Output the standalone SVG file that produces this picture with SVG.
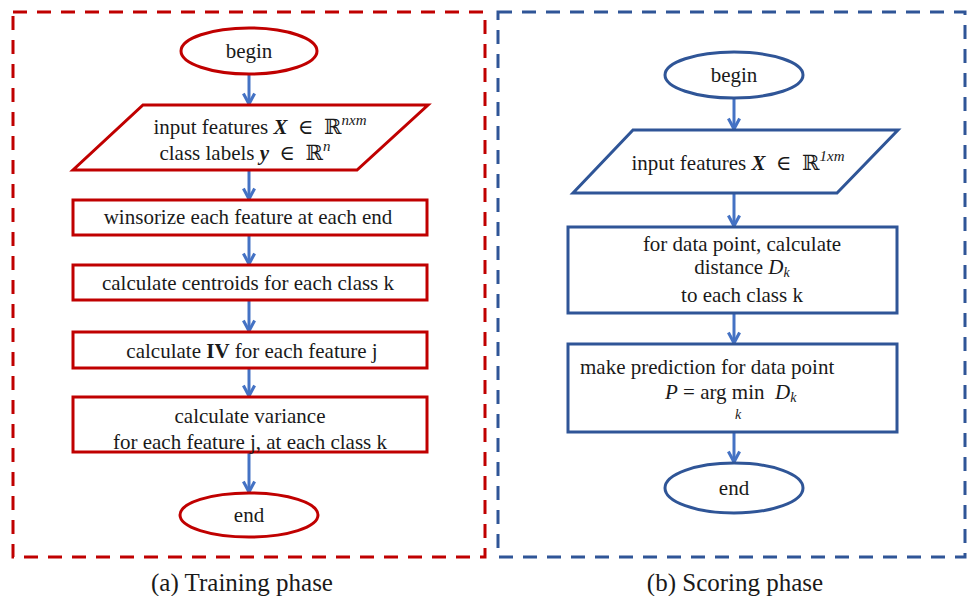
<svg xmlns="http://www.w3.org/2000/svg" width="970" height="596" viewBox="0 0 970 596">
  <style>
    .bg { fill: #ffffff; }
    .frame-red { fill: none; stroke: #C00000; stroke-width: 3; stroke-dasharray: 14 10; }
    .frame-blue { fill: none; stroke: #2F5597; stroke-width: 3; stroke-dasharray: 14 10; }
    .red { fill: #ffffff; stroke: #C00000; stroke-width: 3; }
    .blue { fill: #ffffff; stroke: #2F5597; stroke-width: 3; }
    .arrow { stroke: #4472C4; stroke-width: 3; fill: none; marker-end: url(#chev); }
    text { font-family: "Liberation Serif", "DejaVu Serif", serif; font-size: 21px; fill: #1a1a1a; white-space: pre; }
    .c { text-anchor: middle; }
    .cap { font-family: "Liberation Serif", "Times New Roman", serif; font-size: 25px; }
    .mi { font-style: italic; }
    .mb { font-style: italic; font-weight: bold; }
    .b { font-weight: bold; }
    .sup { font-size: 15px; font-style: italic; }
    .sub { font-size: 14px; font-style: italic; }
  </style>
  <defs>
    <marker id="chev" viewBox="0 0 10 10" refX="9" refY="5" markerUnits="userSpaceOnUse" markerWidth="14" markerHeight="14" orient="auto">
      <path d="M1.5,1 L9,5 L1.5,9" fill="none" stroke="#4472C4" stroke-width="2.2" stroke-linejoin="miter"/>
    </marker>
  </defs>

  <rect class="bg" x="0" y="0" width="970" height="596"/>

  <!-- panel frames -->
  <rect class="frame-red" x="13" y="12" width="472" height="545"/>
  <rect class="frame-blue" x="498" y="12" width="467" height="545"/>

  <!-- connectors -->
  <g id="connectors">
    <line class="arrow" x1="249" y1="75" x2="249" y2="104"/>
    <line class="arrow" x1="249" y1="171" x2="249" y2="199"/>
    <line class="arrow" x1="249" y1="236" x2="249" y2="264"/>
    <line class="arrow" x1="249" y1="301" x2="249" y2="331"/>
    <line class="arrow" x1="249" y1="369" x2="249" y2="396"/>
    <line class="arrow" x1="249" y1="453" x2="249" y2="492"/>

    <line class="arrow" x1="734" y1="98" x2="734" y2="129"/>
    <line class="arrow" x1="734" y1="194" x2="734" y2="226"/>
    <line class="arrow" x1="734" y1="314" x2="734" y2="343"/>
    <line class="arrow" x1="734" y1="433" x2="734" y2="462"/>
  </g>

  <!-- training phase -->
  <g id="train-begin">
    <ellipse class="red" cx="249" cy="51" rx="68" ry="23"/>
    <text class="c" x="249" y="58">begin</text>
  </g>
  <g id="train-input">
    <polygon class="red" points="143,105 428,105 357,170 73,170"/>
    <text class="c" x="260" y="134">input features <tspan class="mb">X</tspan>&#160;&#160;∈&#160;&#160;ℝ<tspan class="sup" dy="-9">nxm</tspan></text>
    <text class="c" x="245" y="160">class labels <tspan class="mb">y</tspan>&#160;&#160;∈&#160;&#160;ℝ<tspan class="sup" dy="-9">n</tspan></text>
  </g>
  <g id="train-winsorize">
    <rect class="red" x="73" y="200" width="354" height="35"/>
    <text class="c" x="248" y="224">winsorize each feature at each end</text>
  </g>
  <g id="train-centroids">
    <rect class="red" x="73" y="265" width="354" height="35"/>
    <text class="c" x="248" y="290">calculate centroids for each class k</text>
  </g>
  <g id="train-iv">
    <rect class="red" x="73" y="332" width="354" height="36"/>
    <text class="c" x="252" y="358">calculate <tspan class="b">IV</tspan> for each feature j</text>
  </g>
  <g id="train-variance">
    <rect class="red" x="73" y="397" width="354" height="55"/>
    <text class="c" x="250" y="423">calculate variance</text>
    <text class="c" x="250" y="449">for each feature j, at each class k</text>
  </g>
  <g id="train-end">
    <ellipse class="red" cx="249" cy="515" rx="69" ry="22"/>
    <text class="c" x="249" y="522">end</text>
  </g>
  <text class="cap c" x="242" y="591">(a) Training phase</text>

  <!-- scoring phase -->
  <g id="score-begin">
    <ellipse class="blue" cx="734" cy="75" rx="69" ry="23"/>
    <text class="c" x="734" y="82">begin</text>
  </g>
  <g id="score-input">
    <polygon class="blue" points="633,130 898,130 837,193 573,193"/>
    <text class="c" x="738" y="170">input features <tspan class="mb">X</tspan>&#160;&#160;∈&#160;&#160;ℝ<tspan class="sup" dy="-9">1xm</tspan></text>
  </g>
  <g id="score-distance">
    <rect class="blue" x="568" y="227" width="329" height="86"/>
    <text class="c" x="742" y="251">for data point, calculate</text>
    <text class="c" x="742" y="274">distance <tspan class="mi">D</tspan><tspan class="sub" dy="3">k</tspan></text>
    <text class="c" x="742" y="302">to each class k</text>
  </g>
  <g id="score-predict">
    <rect class="blue" x="568" y="344" width="329" height="88"/>
    <text x="580" y="374">make prediction for data point</text>
    <text x="665" y="399"><tspan class="mi">P</tspan> = arg min&#160;&#160;<tspan class="mi">D</tspan><tspan class="sub" dy="3">k</tspan></text>
    <text class="sub c" x="738" y="419">k</text>
  </g>
  <g id="score-end">
    <ellipse class="blue" cx="734" cy="488" rx="69" ry="25"/>
    <text class="c" x="734" y="495">end</text>
  </g>
  <text class="cap c" x="735" y="591">(b) Scoring phase</text>
</svg>
